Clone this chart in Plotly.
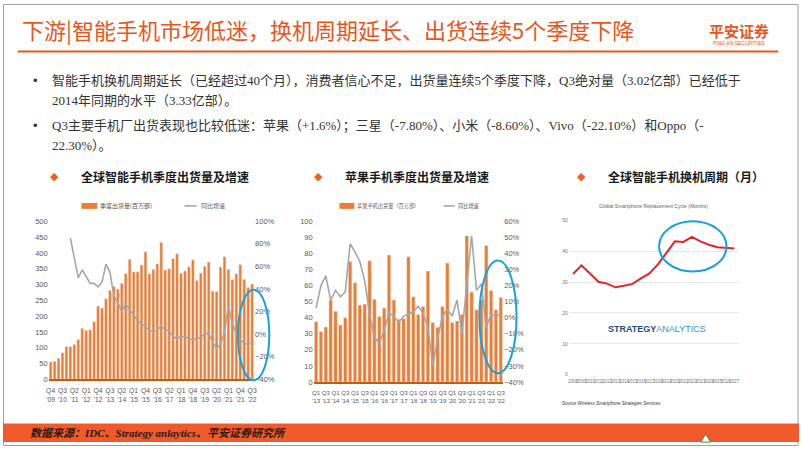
import plotly.graph_objects as go

W, H = 802, 451
def px(x): return x / W
def py(y): return 1 - y / H

# ---------------- data ----------------
global_ticks = ["Q4<br>'09","Q3<br>'10","Q2<br>'11","Q1<br>'12","Q4<br>'12","Q3<br>'13",
                "Q2<br>'14","Q1<br>'15","Q4<br>'15","Q3<br>'16","Q2<br>'17","Q1<br>'18",
                "Q4<br>'18","Q3<br>'19","Q2<br>'20","Q1<br>'21","Q4<br>'21","Q3<br>'22"]
global_ship = [55, 57, 67, 84, 104, 103, 110, 126, 162, 155, 157, 182,
               232, 226, 255, 282, 294, 286, 304, 335, 380, 340, 340, 362,
               404, 334, 348, 366, 434, 346, 350, 382, 397, 336, 343, 356,
               378, 313, 336, 358, 371, 279, 278, 355, 388, 348, 316, 334,
               363, 317, 291, 302]
global_yoy = [None, None, None, None, None, 85, 66, 50, 57, 51, 45, 45,
              42, 46, 62, 55, 34, 28, 20, 27, 22, 16, 12, 9,
              7, 3, 2, 4, 7, 4, 3, -2, -4, -2, -2, -4,
              -5, -4, -3, 0, 1, -7, -13, -9, 2, 25, 9, 1,
              -5, -8, -9, -8]

apple_ticks = ["Q1<br>'13","Q3<br>'13","Q1<br>'14","Q3<br>'14","Q1<br>'15","Q3<br>'15",
               "Q1<br>'16","Q3<br>'16","Q1<br>'17","Q3<br>'17","Q1<br>'18","Q3<br>'18",
               "Q1<br>'19","Q3<br>'19","Q1<br>'20","Q3<br>'20","Q1<br>'21","Q3<br>'21",
               "Q1<br>'22","Q3<br>'22"]
apple_ship = [37.5, 31.4, 34.3, 51.0, 44.0, 35.5, 40.0, 75.0, 61.7, 47.9, 48.5, 75.5,
              51.5, 40.8, 46.0, 79.0, 51.0, 39.0, 39.5, 78.0, 53.0, 42.0, 47.0, 69.0,
              37.0, 34.0, 47.0, 74.0, 37.0, 38.0, 42.0, 91.0, 56.0, 45.0, 51.0, 85.0,
              57.0, 45.0, 52.6]
apple_yoy = [6, 20, 26, 11, 17, 13, 16, 46, 41, 35, 23, 2,
             -12, -16, -8, 3, 1, -3, 1, 2, 4, 7, 3, -6,
             -30, -13, 1, 5, 1, 11, -10, 22, 51, 17, 21, -6,
             2, 1, 2]

years = list(range(2008, 2028))
cycle_months = [32.6, 35.4, 32.8, 30.1, 29.5, 28.3, 28.8, 29.4, 31.2, 32.8,
                35.7, 39.3, 43.2, 43.0, 44.6, 43.2, 42.1, 41.3, 41.0, 40.9]

ORANGE = "#ED7D31"
GRAY = "#A6A6A6"
TICKC = "#595959"
TITLE_ORANGE = "#E9561D"

fig = go.Figure()

# chart 1
fig.add_trace(go.Bar(x=list(range(len(global_ship))), y=global_ship, marker_color=ORANGE,
                     xaxis="x", yaxis="y", showlegend=False))
fig.add_trace(go.Scatter(x=list(range(len(global_yoy))), y=global_yoy, mode="lines",
                         line=dict(color=GRAY, width=1.6), xaxis="x", yaxis="y2",
                         showlegend=False, connectgaps=False))
# chart 2
fig.add_trace(go.Bar(x=list(range(len(apple_ship))), y=apple_ship, marker_color=ORANGE,
                     xaxis="x2", yaxis="y3", showlegend=False))
fig.add_trace(go.Scatter(x=list(range(len(apple_yoy))), y=apple_yoy, mode="lines",
                         line=dict(color=GRAY, width=1.6), xaxis="x2", yaxis="y4",
                         showlegend=False))
# chart 3
fig.add_trace(go.Scatter(x=years, y=cycle_months, mode="lines",
                         line=dict(color="#E4242B", width=2), xaxis="x3", yaxis="y5",
                         showlegend=False))

tickfont = dict(family="Liberation Sans Narrow, Liberation Sans, Arial", size=7.5, color=TICKC)
xtickfont = dict(family="Liberation Sans Narrow, Liberation Sans, Arial", size=6.8, color=TICKC)
xtickfont2 = dict(family="Liberation Sans Narrow, Liberation Sans, Arial", size=6.1, color=TICKC)
tinyfont = dict(family="Liberation Sans Narrow, Liberation Sans", size=4.5, color="#777")

fig.update_layout(
    width=W, height=H, margin=dict(l=0, r=0, t=0, b=0),
    paper_bgcolor="white", plot_bgcolor="rgba(0,0,0,0)",
    bargap=0.28,
    xaxis=dict(domain=[px(46), px(253)], range=[-0.5, 51.5],
               tickvals=list(range(0, 52, 3)), ticktext=global_ticks, tickangle=0,
               tickfont=xtickfont, showgrid=False, zeroline=False, ticklabelstandoff=4,
               showline=True, linecolor="#C55A11", linewidth=1.5, ticks="", anchor="y"),
    yaxis=dict(domain=[py(383), py(221.7)], range=[0, 500], dtick=50,
               tickfont=tickfont, showgrid=False, zeroline=False, anchor="x"),
    yaxis2=dict(domain=[py(383), py(221.7)], range=[-40, 100], dtick=20, ticksuffix="%",
                overlaying="y", side="right", tickfont=tickfont, showgrid=False,
                zeroline=False, anchor="x"),
    xaxis2=dict(domain=[px(313), px(504)], range=[-0.5, 38.5],
                tickvals=list(range(0, 39, 2)), ticktext=apple_ticks, tickangle=0,
                tickfont=xtickfont2, showgrid=False, zeroline=False, ticklabelstandoff=4,
                showline=True, linecolor="#C55A11", linewidth=1.5, ticks="", anchor="y3"),
    yaxis3=dict(domain=[py(385.7), py(221.7)], range=[0, 100], dtick=10,
                tickfont=tickfont, showgrid=False, zeroline=False, anchor="x2"),
    yaxis4=dict(domain=[py(385.7), py(221.7)], range=[-40, 60], dtick=10, ticksuffix="%",
                overlaying="y3", side="right", tickfont=tickfont, showgrid=False,
                zeroline=False, anchor="x2"),
    xaxis3=dict(domain=[px(570), px(742)], range=[2007.5, 2027.6], dtick=1, tickangle=0,
                tickfont=tinyfont, showgrid=False, zeroline=False, ticks="", anchor="y5",
                ticklabelstandoff=3),
    yaxis5=dict(domain=[py(378.3), py(220.7)], range=[0, 50], dtick=10,
                tickfont=dict(family="Liberation Sans Narrow, Liberation Sans", size=5, color="#777"),
                showgrid=True, gridcolor="#E8E8E8", zeroline=False, anchor="x3"),
)

shapes = []
ann = []

# border
shapes.append(dict(type="rect", xref="paper", yref="paper", x0=px(0.5), x1=px(801), y0=py(450.5), y1=py(0.5),
                   line=dict(color="#A0A0A0", width=1)))
# header line
shapes.append(dict(type="line", xref="paper", yref="paper", x0=px(15), x1=px(781), y0=py(48.5), y1=py(48.5),
                   line=dict(color=TITLE_ORANGE, width=2)))
# footer band
shapes.append(dict(type="rect", xref="paper", yref="paper", x0=px(0), x1=px(802), y0=py(447), y1=py(428),
                   fillcolor="#F0592A", line=dict(width=0)))
shapes.append(dict(type="path", xref="paper", yref="paper",
                   path=f"M {px(703)} {py(447)} L {px(708)} {py(439)} L {px(713)} {py(447)} Z",
                   fillcolor="white", line=dict(color="#3C8A3C", width=1)))

# header text
ann.append(dict(x=px(17), y=py(26), xref="paper", yref="paper", xanchor="left", yanchor="middle",
                text="下游|智能手机市场低迷，换机周期延长、出货连续5个季度下降", showarrow=False,
                font=dict(family="Noto Sans CJK SC", size=22, color=TITLE_ORANGE)))
ann.append(dict(x=px(742), y=py(27), xref="paper", yref="paper", xanchor="center", yanchor="middle",
                text="<b>平安证券</b>", showarrow=False,
                font=dict(family="Noto Sans CJK SC", size=15, color=TITLE_ORANGE)))
ann.append(dict(x=px(742), y=py(40), xref="paper", yref="paper", xanchor="center", yanchor="middle",
                text="PING AN SECURITIES", showarrow=False,
                font=dict(family="Liberation Sans", size=5, color=TITLE_ORANGE)))

# bullets
bfont = dict(family="Liberation Serif, Noto Sans CJK SC", size=13, color="#333333")
lines = [
    (78, "智能手机换机周期延长（已经超过40个月），消费者信心不足，出货量连续5个季度下降，Q3绝对量（3.02亿部）已经低于", True),
    (98, "2014年同期的水平（3.33亿部）。", False),
    (124, "Q3主要手机厂出货表现也比较低迷：苹果（+1.6%）；三星（-7.80%）、小米（-8.60%）、Vivo（-22.10%）和Oppo（-", True),
    (144, "22.30%）。", False),
]
for yy, t, bullet in lines:
    ann.append(dict(x=px(47), y=py(yy), xref="paper", yref="paper", xanchor="left", yanchor="middle",
                    text=t, showarrow=False, font=bfont))
    if bullet:
        ann.append(dict(x=px(33), y=py(yy), xref="paper", yref="paper", xanchor="center", yanchor="middle",
                        text="•", showarrow=False, font=dict(family="Liberation Sans", size=13, color="#333")))

# chart titles
for dx, tx, t in [(52, 77, "全球智能手机季度出货量及增速"), (318, 343, "苹果手机季度出货量及增速"),
                  (583, 608, "全球智能手机换机周期（月）")]:
    ann.append(dict(x=px(dx), y=py(176), xref="paper", yref="paper", xanchor="center", yanchor="middle",
                    text="◆", showarrow=False, font=dict(family="DejaVu Sans", size=11, color="#E8641E")))
    ann.append(dict(x=px(tx), y=py(176), xref="paper", yref="paper", xanchor="left", yanchor="middle",
                    text="<b>" + t + "</b>", showarrow=False,
                    font=dict(family="Noto Sans CJK SC", size=12, color="#1a1a1a")))

# legends
for rx0, rx1, tx, ttext, fs, gx0, gx1, gtx in [(79, 95, 96, "季度出货量(百万部)", 6, 183, 195, 197),
                                               (339, 354, 355, "苹果手机出货量（百万部）", 5.2, 444, 455, 456)]:
    lfont = dict(family="Noto Sans CJK SC", size=fs, color="#555")
    shapes.append(dict(type="rect", xref="paper", yref="paper", x0=px(rx0), x1=px(rx1), y0=py(209), y1=py(203),
                       fillcolor=ORANGE, line=dict(width=0)))
    ann.append(dict(x=px(tx), y=py(206), xref="paper", yref="paper", xanchor="left", yanchor="middle",
                    text=ttext, showarrow=False, font=lfont))
    shapes.append(dict(type="line", xref="paper", yref="paper", x0=px(gx0), x1=px(gx1), y0=py(206), y1=py(206),
                       line=dict(color=GRAY, width=1.6)))
    ann.append(dict(x=px(gtx), y=py(206), xref="paper", yref="paper", xanchor="left", yanchor="middle",
                    text="同比增速", showarrow=False, font=lfont))

# chart 3 texts
ann.append(dict(x=px(655), y=py(206.5), xref="paper", yref="paper", xanchor="center", yanchor="middle",
                text="Global Smartphone Replacement Cycle (Months)", showarrow=False,
                font=dict(family="Liberation Sans Narrow, Liberation Sans", size=5, color="#666")))
ann.append(dict(x=px(659), y=py(331.5), xref="paper", yref="paper", xanchor="center", yanchor="middle",
                text="<b><span style='color:#1F4E79'>STRATEGY</span></b><span style='color:#3A8FB7'>ANALYTICS</span>",
                showarrow=False,
                font=dict(family="Liberation Sans Narrow, Liberation Sans", size=9)))
ann.append(dict(x=px(561), y=py(408), xref="paper", yref="paper", xanchor="left", yanchor="middle",
                text="<i>Source Wireless Smartphone Strategies Services</i>", showarrow=False,
                font=dict(family="Liberation Sans Narrow, Liberation Sans", size=4.5, color="#333")))

# footer text
ann.append(dict(x=px(25), y=py(437.5), xref="paper", yref="paper", xanchor="left", yanchor="middle",
                text="<b><i>数据来源：IDC、Strategy anlaytics、平安证券研究所</i></b>", showarrow=False,
                font=dict(family="Liberation Serif, Noto Sans CJK SC", size=11, color="#2b1a10")))

# ellipses
for cx, cy, rx, ry in [(252.5, 337.8, 15.8, 46.2), (498.7, 319.2, 18.7, 57.5), (695, 247.3, 34, 25.7)]:
    shapes.append(dict(type="circle", xref="paper", yref="paper", x0=px(cx - rx), x1=px(cx + rx),
                       y0=py(cy + ry), y1=py(cy - ry), line=dict(color="#1AA0DC", width=2)))

fig.update_layout(shapes=shapes, annotations=ann)
fig.write_html("out.html", config={"displayModeBar": False},
               post_script="document.body.style.margin='0px';document.body.style.overflow='hidden';")
